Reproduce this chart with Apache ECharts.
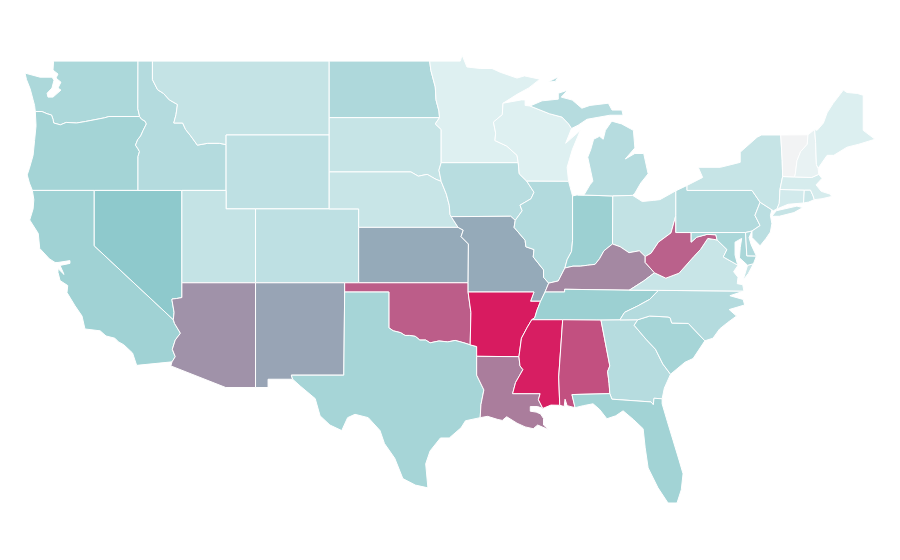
<!DOCTYPE html>
<html>
<head>
<meta charset="utf-8">
<title>US states</title>
<style>html,body{margin:0;background:#fff}#main{width:900px;height:560px}</style>
<script src="https://cdn.jsdelivr.net/npm/echarts@6/dist/echarts.min.js"></script>
</head>
<body>
<div id="main"></div>
<script>
const stateNames = ['Washington','Oregon','California','Nevada','Idaho','Montana','Wyoming','Utah','Arizona','Colorado','New Mexico','North Dakota','South Dakota','Nebraska','Kansas','Oklahoma','Texas','Minnesota','Iowa','Missouri','Arkansas','Louisiana','Wisconsin','Illinois','Indiana','Michigan','Ohio','Kentucky','Tennessee','Mississippi','Alabama','Georgia','Florida','South Carolina','North Carolina','Virginia','West Virginia','Pennsylvania','Maryland','Delaware','New Jersey','New York','Connecticut','Rhode Island','Massachusetts','Vermont','New Hampshire','Maine']
const stateValues = [35,39,41,50,31,23,26,23,66,26,61,34,22,21,59,81,38,10,29,59,100,72,10,32,43,30,24,69,43,99,85,30,40,38,31,21,80,32,36,33,28,22,16,20,14,0,5,11]
const colorStops = ['#f2f3f4','#def0f1','#cae6e8','#b6dcdf','#a2d3d5','#8ec9cc','#96a7b7','#a684a0','#ba618b','#c93e75','#d81b60']

// state outlines, shared borders are kept once so neighbours line up
const borders = {
  wa_n: [[-122.76,49],[-117.03,49]],
  wa_coast: [[-122.76,49],[-122.8,48.51],[-122.46,48.3],[-122.6,48.08],[-122.26,47.86],[-122.46,47.54],[-122.26,47.43],[-122.8,47.05],[-123.14,47.05],[-123.2,47.26],[-122.87,47.54],[-122.73,47.97],[-122.87,48.13],[-123.68,48.13],[-124.7,48.35],[-124.6,48],[-124.35,47.5],[-124.15,46.9],[-124.05,46.6],[-124,46.27]],
  wa_or: [[-124,46.27],[-123.55,46.27],[-123.2,46.15],[-122.9,46.08],[-122.8,45.85],[-122.75,45.65],[-122.3,45.55],[-121.9,45.68],[-121.2,45.65],[-120.6,45.73],[-119.95,45.83],[-119.3,45.93],[-119,46],[-116.92,46]],
  wa_id: [[-117.03,49],[-117.04,46.42],[-116.92,46]],
  or_coast: [[-124,46.27],[-123.95,45.5],[-124.05,44.7],[-124.15,43.9],[-124.4,43.2],[-124.55,42.84],[-124.4,42.4],[-124.2,42]],
  or_id: [[-116.92,46],[-116.78,45.85],[-116.55,45.75],[-116.46,45.6],[-116.68,45.25],[-116.85,44.95],[-117.05,44.75],[-117.2,44.45],[-117.03,44.25],[-116.93,44.1],[-117.03,43.83],[-117.03,42]],
  or_ca: [[-124.2,42],[-120,42]],
  or_nv: [[-120,42],[-117.03,42]],
  ca_coast: [[-124.2,42],[-124.1,41.5],[-124.15,41],[-124.38,40.4],[-123.8,39.67],[-123.7,38.86],[-123.05,38.3],[-122.66,38.1],[-122.46,38.1],[-121.65,38.2],[-121.65,38.05],[-122.32,37.94],[-122.05,37.45],[-122.46,37.77],[-122.46,37.56],[-122.32,37.12],[-121.8,36.85],[-121.85,36.47],[-121.3,35.75],[-120.83,35.2],[-120.63,34.5],[-119.6,34.4],[-119.2,34.12],[-118.6,34],[-118.35,33.8],[-118,33.65],[-117.4,33.2],[-117.12,32.53]],
  ca_mx: [[-117.12,32.53],[-114.72,32.72]],
  ca_az: [[-114.72,32.72],[-114.5,33],[-114.7,33.4],[-114.5,33.9],[-114.15,34.27],[-114.55,34.8],[-114.63,35]],
  ca_nv: [[-114.63,35],[-120,39],[-120,42]],
  nv_az: [[-114.63,35],[-114.58,35.4],[-114.72,36.05],[-114.72,36.12],[-114.4,36.15],[-114.05,36.2],[-114.05,37]],
  nv_id: [[-117.03,42],[-114.05,42]],
  nv_ut: [[-114.05,42],[-114.05,37]],
  id_n: [[-117.03,49],[-116.05,49]],
  id_mt: [[-116.05,49],[-116.05,48],[-115.7,47.45],[-115.3,47.25],[-114.9,46.9],[-114.35,46.65],[-114.45,46.1],[-114.6,45.65],[-114,45.65],[-113.8,45.3],[-113.45,44.95],[-113,44.45],[-112.3,44.55],[-111.5,44.55],[-111.05,44.48]],
  id_wy: [[-111.05,44.48],[-111.05,42]],
  id_ut: [[-111.05,42],[-114.05,42]],
  mt_n: [[-116.05,49],[-104.05,49]],
  mt_nd: [[-104.05,49],[-104.05,45.94]],
  mt_sd: [[-104.05,45.94],[-104.05,45]],
  mt_wy: [[-104.05,45],[-111.05,45],[-111.05,44.48]],
  wy_sd: [[-104.05,45],[-104.05,43]],
  wy_ne: [[-104.05,43],[-104.05,41]],
  wy_co: [[-104.05,41],[-109.05,41]],
  wy_ut: [[-109.05,41],[-111.05,41],[-111.05,42]],
  ut_az: [[-114.05,37],[-109.05,37]],
  ut_co: [[-109.05,37],[-109.05,41]],
  az_nm: [[-109.05,37],[-109.05,31.33]],
  az_s: [[-114.72,32.72],[-114.8,32.5],[-111.07,31.33],[-109.05,31.33]],
  co_ne: [[-104.05,41],[-102.05,41],[-102.05,40]],
  co_ks: [[-102.05,40],[-102.05,37]],
  co_ok: [[-102.05,37],[-103,37]],
  co_nm: [[-103,37],[-109.05,37]],
  nm_ok: [[-103,37],[-103,36.5]],
  nm_tx: [[-103,36.5],[-103.06,32],[-106.62,32],[-106.53,31.78]],
  nm_mx: [[-106.53,31.78],[-108.2,31.78],[-108.2,31.33],[-109.05,31.33]],
  nd_n: [[-104.05,49],[-97.23,49]],
  mn_nd: [[-96.56,45.94],[-96.6,46.3],[-96.8,46.9],[-96.85,47.6],[-97.15,48.5],[-97.23,49]],
  nd_sd: [[-104.05,45.94],[-96.56,45.94]],
  sd_mn: [[-96.45,43.5],[-96.45,45.3],[-96.85,45.6],[-96.56,45.94]],
  ia_sd: [[-96.45,42.49],[-96.6,43.1],[-96.45,43.5]],
  sd_ne: [[-104.05,43],[-98.5,43],[-98,42.77],[-97.4,42.87],[-96.8,42.6],[-96.45,42.49]],
  ne_ia: [[-96.45,42.49],[-96.1,41.8],[-95.9,41.2],[-95.85,40.7],[-95.77,40.58]],
  ne_mo: [[-95.77,40.58],[-95.3,40]],
  ne_ks: [[-102.05,40],[-95.3,40]],
  ks_mo: [[-95.3,40],[-94.95,39.85],[-95.1,39.5],[-94.6,39.1],[-94.62,37]],
  ok_ks: [[-102.05,37],[-94.62,37]],
  ok_mo: [[-94.62,37],[-94.62,36.5]],
  ok_ar: [[-94.62,36.5],[-94.43,35.4],[-94.48,33.64]],
  ok_tx: [[-103,36.5],[-100,36.5],[-100,34.56],[-99.7,34.4],[-99.2,34.3],[-98.9,34.15],[-98.6,34.15],[-98.2,34.1],[-97.9,33.9],[-97.5,33.9],[-97.2,33.75],[-96.6,33.85],[-96,33.8],[-95.5,33.88],[-94.9,33.75],[-94.48,33.64]],
  tx_ar: [[-94.48,33.64],[-94.04,33.55],[-94.04,33.02]],
  tx_la: [[-94.04,33.02],[-94.04,32],[-93.55,31.2],[-93.75,30.4],[-93.8,29.7]],
  tx_coast: [[-93.8,29.7],[-94.8,29.53],[-95.1,29.15],[-95.9,28.6],[-96.5,28.6],[-97.2,27.9],[-97.5,27.2],[-97.35,25.9]],
  tx_mx: [[-97.35,25.9],[-98.2,26.05],[-99.05,26.4],[-99.6,27.5],[-100.3,28.3],[-100.6,29],[-101.4,29.7],[-102.3,29.88],[-102.8,29.7],[-103.2,29],[-104,29.3],[-104.67,29.8],[-105,30.73],[-106,31.4],[-106.53,31.78]],
  ia_mo: [[-95.77,40.58],[-91.73,40.6],[-91.42,40.38]],
  mo_il: [[-91.42,40.38],[-91.5,40],[-90.75,39.3],[-90.7,38.95],[-90.15,38.8],[-90.2,38.4],[-89.5,37.7],[-89.5,37.3],[-89.15,36.98]],
  mo_ky: [[-89.15,36.98],[-89.4,36.5]],
  mo_tn: [[-89.4,36.5],[-89.7,36]],
  ar_mo: [[-94.62,36.5],[-90.15,36.5],[-90.38,36],[-89.7,36]],
  ar_tn: [[-89.7,36],[-89.95,35.5],[-90.1,35.1],[-90.3,35]],
  ar_ms: [[-90.3,35],[-90.6,34.6],[-91,34],[-91.17,33]],
  la_ar: [[-94.04,33.02],[-91.17,33]],
  la_ms: [[-91.17,33],[-91.1,32.5],[-90.9,32.3],[-91.4,31.6],[-91.6,31],[-89.73,31],[-89.85,30.67],[-89.55,30.2]],
  la_coast: [[-93.8,29.7],[-93.3,29.77],[-92.6,29.6],[-92.3,29.55],[-92,29.75],[-91.3,29.4],[-90.75,29.2],[-90.2,29.1],[-89.9,29.3],[-89.13,29.04],[-89.5,29.3],[-89.5,29.65],[-89.7,29.9],[-90,30],[-90.4,30.05],[-90.4,30.3],[-89.9,30.3],[-89.55,30.2]],
  mn_ia: [[-96.45,43.5],[-91.22,43.5]],
  ia_wi: [[-91.22,43.5],[-91.15,42.9],[-90.64,42.5]],
  ia_il: [[-90.64,42.5],[-90.15,41.9],[-90.35,41.55],[-91.1,41.2],[-90.95,40.9],[-91.42,40.38]],
  mn_n: [[-97.23,49],[-95.15,49],[-95.03,49.33],[-94.7,48.68],[-93.8,48.6],[-93,48.6],[-92.45,48.4],[-91.3,48.08],[-90.8,48.2],[-89.75,48.02],[-90.5,47.55],[-91.3,47.2],[-92.25,46.72]],
  mn_wi: [[-92.25,46.72],[-92.3,46.1],[-92.9,45.7],[-92.75,45.1],[-92.8,44.7],[-92,44.4],[-91.3,43.9],[-91.22,43.5]],
  wi_n: [[-92.25,46.72],[-91,46.9],[-90.75,46.9],[-90.75,46.6],[-90.42,46.57]],
  wi_mi: [[-90.42,46.57],[-89.1,46.15],[-88.25,45.97],[-87.8,45.6],[-87.6,45.35]],
  wi_lake: [[-87.6,45.35],[-88,44.55],[-87,45.25],[-87.55,44.2],[-87.9,43.25],[-87.8,42.49]],
  wi_il: [[-90.64,42.5],[-87.8,42.49]],
  il_lake: [[-87.8,42.49],[-87.6,41.9],[-87.53,41.7]],
  il_in: [[-87.53,41.7],[-87.53,39.3],[-87.6,38.7],[-87.9,38.25],[-88.05,37.8]],
  il_ky: [[-88.05,37.8],[-88.5,37.1],[-89.15,36.98]],
  in_lake: [[-87.53,41.7],[-87.2,41.76]],
  in_mi: [[-87.2,41.76],[-84.8,41.7]],
  in_oh: [[-84.8,41.7],[-84.82,39.1]],
  in_ky: [[-88.05,37.8],[-87.5,37.9],[-87,37.9],[-86.5,37.95],[-86,38],[-85.7,38.3],[-85.4,38.73],[-84.82,39.1]],
  ky_oh: [[-84.82,39.1],[-84.3,38.95],[-83.7,38.63],[-83,38.73],[-82.6,38.42]],
  ky_wv: [[-82.6,38.42],[-82.6,38.1],[-81.97,37.54]],
  ky_va: [[-81.97,37.54],[-82.7,37.1],[-83.68,36.6]],
  ky_tn: [[-83.68,36.6],[-88.07,36.65],[-88.07,36.5],[-89.4,36.5]],
  oh_mi: [[-84.8,41.7],[-83.45,41.73]],
  oh_lake: [[-83.45,41.73],[-82.8,41.4],[-82.05,41.46],[-81.6,41.5],[-80.52,41.98]],
  oh_pa: [[-80.52,41.98],[-80.52,40.64]],
  oh_wv: [[-80.52,40.64],[-80.85,39.7],[-81.7,39.2],[-82.2,38.6],[-82.6,38.42]],
  ml_lake: [[-87.2,41.76],[-86.75,41.76],[-86.35,42.3],[-86.15,42.5],[-86.5,43.8],[-86.3,44.2],[-86.1,44.77],[-85.7,44.93],[-85.45,44.77],[-85.3,45.25],[-84.87,45.75],[-84.2,45.6],[-83.4,45.25],[-83.3,44.3],[-83.95,43.7],[-83.3,44],[-82.7,44],[-82.4,42.9],[-82.9,42.4],[-83.3,41.85],[-83.45,41.73]],
  mu_coast: [[-90.42,46.57],[-89.6,46.85],[-88.5,46.94],[-88.5,47.26],[-87.85,47.43],[-88.3,47.05],[-87.55,46.89],[-86.9,46.45],[-86.35,46.6],[-85.1,46.72],[-84.85,46.35],[-84.18,46.35],[-84.1,46.07],[-85,46.07],[-86.55,45.85],[-87.15,45.53],[-87.6,45.35]],
  tn_va: [[-81.7,36.59],[-83.68,36.6]],
  tn_nc: [[-84.32,34.99],[-84,35.4],[-83.1,35.75],[-82.3,36.1],[-81.7,36.59]],
  tn_ga: [[-85.6,34.98],[-84.32,34.99]],
  tn_al: [[-88.2,35],[-85.6,34.98]],
  tn_ms: [[-90.3,35],[-88.2,35]],
  ms_al: [[-88.2,35],[-88.47,31.9],[-88.4,30.37]],
  ms_coast: [[-89.55,30.2],[-89,30.38],[-88.4,30.37]],
  al_coast: [[-88.4,30.37],[-88.1,30.3],[-88.04,30.7],[-87.9,30.35],[-87.36,30.24]],
  al_fl: [[-87.36,30.24],[-87.57,30.95],[-85,31]],
  al_ga: [[-85.6,34.98],[-85,32.5],[-85.15,32.2],[-85.05,31.55],[-85,31]],
  ga_nc: [[-84.32,34.99],[-83.1,35]],
  ga_sc: [[-83.1,35],[-83.35,34.7],[-82.55,33.95],[-81.9,33.4],[-81.4,32.6],[-80.88,32.05]],
  ga_coast: [[-80.88,32.05],[-81.3,31.3],[-81.45,30.72]],
  ga_fl: [[-81.45,30.72],[-82,30.75],[-82.05,30.4],[-82.2,30.55],[-84.86,30.7],[-85,31]],
  fl_coast: [[-81.45,30.72],[-81.45,30.45],[-81.1,29.5],[-80.7,28.45],[-80.3,27.4],[-80.03,26.66],[-80.15,25.8],[-80.44,25.08],[-81.05,25.08],[-81.73,25.9],[-82.4,26.98],[-82.6,28.07],[-82.74,29.1],[-83.4,29.6],[-84.1,30.07],[-84.6,29.8],[-85.2,29.64],[-85.7,30.15],[-86.14,30.45],[-86.8,30.35],[-87.36,30.24]],
  sc_nc: [[-78.55,33.86],[-79.67,34.8],[-80.8,34.82],[-80.9,35.1],[-81.05,35.15],[-82.3,35.2],[-83.1,35]],
  sc_coast: [[-78.55,33.86],[-79.35,32.9],[-79.9,32.7],[-80.88,32.05]],
  nc_va: [[-81.7,36.59],[-75.9,36.55]],
  nc_coast: [[-75.9,36.55],[-76.85,36.3],[-75.95,36.1],[-75.85,35.8],[-76.9,35.55],[-76.4,35.2],[-77,34.85],[-77.55,34.5],[-78,34],[-78.55,33.86]],
  wv_va: [[-77.72,39.32],[-78.35,39.4],[-78.85,38.8],[-79.3,38.42],[-80.3,37.52],[-81.2,37.25],[-81.97,37.54]],
  wv_md: [[-79.48,39.72],[-79.48,39.2],[-79.1,39.47],[-78.4,39.62],[-77.8,39.6],[-77.72,39.32]],
  wv_pa: [[-80.52,40.64],[-80.52,39.72],[-79.48,39.72]],
  va_md: [[-77.72,39.32],[-77.05,38.8],[-77.3,38.4],[-76.3,37.95]],
  va_coast: [[-76.3,37.95],[-76.6,37.6],[-76.3,37.3],[-76.35,36.95],[-75.98,36.9],[-75.9,36.55]],
  pa_lake: [[-80.52,41.98],[-79.76,42.27]],
  pa_ny: [[-79.76,42.27],[-79.76,42],[-75.35,42],[-74.8,41.36]],
  pa_nj: [[-74.8,41.36],[-75.15,40.65],[-74.8,40.1],[-75.35,39.8]],
  pa_de: [[-75.35,39.8],[-75.79,39.72]],
  pa_md: [[-75.79,39.72],[-79.48,39.72]],
  md_de: [[-75.79,39.72],[-75.7,38.46],[-75.05,38.45]],
  md_coast: [[-75.05,38.45],[-75.25,38.03],[-75.65,37.95],[-76.2,38.35],[-76.15,38.9],[-76.05,39.4],[-76.5,39.2],[-76.5,38.5],[-76.35,38.05],[-76.3,37.95]],
  de_coast: [[-75.35,39.8],[-75.55,39.45],[-75.4,39.05],[-75.05,38.45]],
  nj_ny: [[-74.8,41.36],[-74,40.95]],
  nj_coast: [[-74,40.95],[-74.1,40.65],[-74,40.2],[-74.1,39.75],[-74.4,39.4],[-74.8,39],[-75.35,39.45],[-75.35,39.8]],
  ny_north: [[-79.76,42.27],[-78.7,42.7],[-79,43.25],[-77.5,43.25],[-76.5,43.45],[-76.15,43.52],[-76.15,44.07],[-75,44.88],[-74.7,45],[-73.4,45]],
  ny_vt: [[-73.4,45],[-73.3,43.63],[-73.27,42.75]],
  ny_ma: [[-73.27,42.75],[-73.45,42.05]],
  ny_ct: [[-73.45,42.05],[-73.5,41.3],[-73.65,41]],
  ny_sound: [[-73.65,41],[-73.9,40.9],[-74,40.95]],
  vt_n: [[-73.4,45],[-71.55,45.01]],
  vt_nh: [[-71.55,45.01],[-71.6,44.5],[-72.05,44.1],[-72.3,43.6],[-72.4,42.93],[-72.46,42.73]],
  vt_ma: [[-72.46,42.73],[-73.27,42.75]],
  nh_n: [[-71.55,45.01],[-71.1,45.3]],
  nh_me: [[-71.1,45.3],[-71.03,44.6],[-70.98,43.4],[-70.86,43.2]],
  nh_coast: [[-70.86,43.2],[-70.82,42.87]],
  nh_ma: [[-70.82,42.87],[-71.3,42.7],[-72.46,42.73]],
  me_rest: [[-71.1,45.3],[-70.93,45.25],[-70.5,45.65],[-70.25,46.2],[-69.85,46.7],[-69.15,47.43],[-68.9,47.3],[-68.2,47.25],[-67.8,47.15],[-67.8,45.25],[-67,44.77],[-68.1,44.5],[-68.9,44.34],[-69.8,43.9],[-70.25,43.9],[-70.86,43.2]],
  ma_coast: [[-70.82,42.87],[-70.6,42.65],[-71,42.3],[-70.65,41.95],[-70.05,41.8],[-70.2,42.07],[-69.95,41.67],[-70.6,41.55],[-71.12,41.5]],
  ma_ri: [[-71.12,41.5],[-71.2,41.7],[-71.38,42.02],[-71.8,42.02]],
  ma_ct: [[-71.8,42.02],[-73.45,42.05]],
  ri_coast: [[-71.12,41.5],[-71.5,41.37],[-71.85,41.32]],
  ri_ct: [[-71.85,41.32],[-71.8,42.02]],
  ct_coast: [[-71.85,41.32],[-72.9,41.25],[-73.65,41]]
}

const extraRings = {
  Michigan: [[[-89.2,47.87],[-88.5,48.15],[-88.7,47.9],[-89.2,47.87]]],
  Virginia: [[[-75.95,37.15],[-75.65,37.95],[-75.25,38.03],[-75.6,37.5],[-75.95,37.15]]],
  'New York': [[[-74,40.6],[-73.7,40.9],[-72.3,41.15],[-71.9,41.07],[-72.5,40.8],[-73.5,40.6],[-74,40.6]]]
}

const rings = {
  Washington: [['wa_n','wa_id','-wa_or','-wa_coast']],
  Oregon: [['wa_or','or_id','-or_nv','-or_ca','-or_coast']],
  California: [['ca_coast','ca_mx','ca_az','ca_nv','-or_ca']],
  Nevada: [['or_nv','nv_id','nv_ut','-nv_az','ca_nv']],
  Idaho: [['id_n','id_mt','id_wy','id_ut','-nv_id','-or_id','-wa_id']],
  Montana: [['mt_n','mt_nd','mt_sd','mt_wy','-id_mt']],
  Wyoming: [['-mt_wy','wy_sd','wy_ne','wy_co','wy_ut','-id_wy']],
  Utah: [['id_ut','nv_ut','ut_az','ut_co','wy_ut']],
  Arizona: [['nv_az','ut_az','az_nm','-az_s','ca_az']],
  Colorado: [['-wy_co','co_ne','co_ks','co_ok','co_nm','ut_co']],
  'New Mexico': [['-co_nm','nm_ok','nm_tx','nm_mx','-az_nm']],
  'North Dakota': [['-mt_nd','nd_n','-mn_nd','-nd_sd']],
  'South Dakota': [['nd_sd','-sd_mn','-ia_sd','-sd_ne','-wy_sd','-mt_sd']],
  Nebraska: [['sd_ne','ne_ia','ne_mo','-ne_ks','-co_ne','-wy_ne']],
  Kansas: [['ne_ks','ks_mo','-ok_ks','-co_ks']],
  Oklahoma: [['-co_ok','ok_ks','ok_mo','ok_ar','-ok_tx','-nm_ok']],
  Texas: [['ok_tx','tx_ar','tx_la','tx_coast','tx_mx','-nm_tx']],
  Minnesota: [['sd_mn','mn_nd','mn_n','mn_wi','-mn_ia']],
  Iowa: [['ia_sd','mn_ia','ia_wi','ia_il','-ia_mo','-ne_ia']],
  Missouri: [['ia_mo','mo_il','mo_ky','mo_tn','-ar_mo','-ok_mo','-ks_mo','-ne_mo']],
  Arkansas: [['ar_mo','ar_tn','ar_ms','-la_ar','-tx_ar','-ok_ar']],
  Louisiana: [['la_ar','la_ms','-la_coast','-tx_la']],
  Wisconsin: [['wi_n','wi_mi','wi_lake','-wi_il','-ia_wi','-mn_wi']],
  Illinois: [['wi_il','il_lake','il_in','il_ky','-mo_il','-ia_il']],
  Indiana: [['in_lake','in_mi','in_oh','-in_ky','-il_in']],
  Michigan: [['ml_lake','-oh_mi','-in_mi'],['mu_coast','-wi_mi']],
  Ohio: [['-in_oh','oh_mi','oh_lake','oh_pa','oh_wv','-ky_oh']],
  Kentucky: [['in_ky','ky_oh','ky_wv','ky_va','ky_tn','-mo_ky','-il_ky']],
  Tennessee: [['-ky_tn','-tn_va','-tn_nc','-tn_ga','-tn_al','-tn_ms','-ar_tn','-mo_tn']],
  Mississippi: [['tn_ms','ms_al','-ms_coast','-la_ms','-ar_ms']],
  Alabama: [['tn_al','al_ga','-al_fl','-al_coast','-ms_al']],
  Georgia: [['tn_ga','ga_nc','ga_sc','ga_coast','ga_fl','-al_ga']],
  Florida: [['al_fl','-ga_fl','fl_coast']],
  'South Carolina': [['sc_nc','ga_sc','-sc_coast']],
  'North Carolina': [['tn_nc','nc_va','nc_coast','sc_nc','-ga_nc']],
  Virginia: [['-nc_va','tn_va','-ky_va','-wv_va','va_md','va_coast']],
  'West Virginia': [['oh_wv','ky_wv','-wv_va','-wv_md','-wv_pa']],
  Pennsylvania: [['pa_lake','pa_ny','pa_nj','pa_de','pa_md','-wv_pa','-oh_pa']],
  Maryland: [['-pa_md','md_de','md_coast','-va_md','-wv_md']],
  Delaware: [['-pa_de','de_coast','-md_de']],
  'New Jersey': [['-pa_nj','nj_ny','nj_coast']],
  'New York': [['ny_north','ny_vt','ny_ma','ny_ct','ny_sound','-nj_ny','-pa_ny']],
  Connecticut: [['-ma_ct','-ri_ct','ct_coast','-ny_ct']],
  'Rhode Island': [['-ma_ri','ri_coast','ri_ct']],
  Massachusetts: [['-vt_ma','-nh_ma','ma_coast','ma_ri','ma_ct','-ny_ma']],
  Vermont: [['vt_n','vt_nh','vt_ma','-ny_vt']],
  'New Hampshire': [['nh_n','nh_me','nh_coast','nh_ma','-vt_nh']],
  Maine: [['me_rest','-nh_me']]
}

function buildRing(parts) {
  let out = []
  parts.forEach(p => {
    const rev = p[0] === '-'
    const pts = borders[rev ? p.slice(1) : p]
    out = out.concat(rev ? pts.slice().reverse() : pts)
  })
  out.push(out[0])
  return out
}

const usa = {
  type: 'FeatureCollection',
  features: stateNames.map(name => ({
    type: 'Feature',
    properties: { name: name },
    geometry: {
      type: 'MultiPolygon',
      coordinates: rings[name].map(r => [buildRing(r)]).concat((extraRings[name] || []).map(r => [r]))
    }
  }))
}

echarts.registerMap('usa', usa)
const myChart = echarts.init(document.getElementById('main'))
myChart.setOption({
  animation: false,
  backgroundColor: '#fff',
  visualMap: {
    show: false,
    min: 0,
    max: 100,
    inRange: { color: colorStops }
  },
  series: [{
    type: 'map',
    map: 'usa',
    roam: false,
    left: 25,
    top: 55,
    width: 850,
    height: 448,
    aspectScale: 0.799,
    label: { show: false },
    itemStyle: { borderColor: '#fff', borderWidth: 1 },
    emphasis: { disabled: true },
    data: stateNames.map((n, i) => ({ name: n, value: stateValues[i] }))
  }]
})
</script>
</body>
</html>
